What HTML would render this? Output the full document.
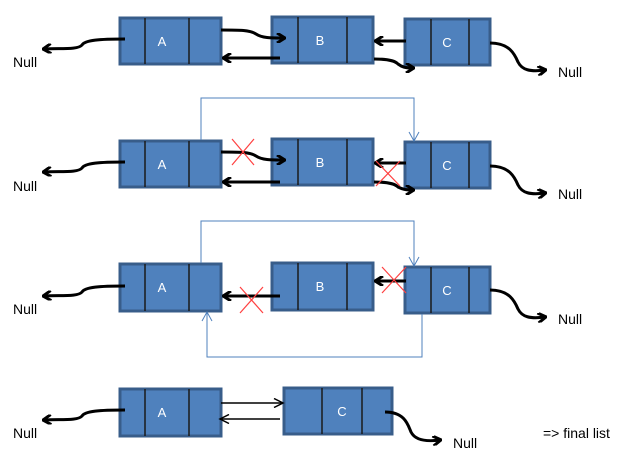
<!DOCTYPE html>
<html><head><meta charset="utf-8"><style>
html,body{margin:0;padding:0;background:#fff;width:626px;height:460px;overflow:hidden}
svg text{font-family:"Liberation Sans",sans-serif}
</style></head><body>
<svg width="626" height="460" viewBox="0 0 626 460" xmlns="http://www.w3.org/2000/svg">
<defs>
<marker id="ah" markerWidth="10" markerHeight="10" refX="8" refY="5" orient="auto" markerUnits="userSpaceOnUse"><path d="M1,0 L9,5 L1,10" fill="none" stroke="#000" stroke-width="3"/></marker>
<marker id="ahT" markerWidth="12" markerHeight="10" refX="10" refY="5" orient="auto" markerUnits="userSpaceOnUse"><path d="M1,0.5 L10,5 L1,9.5" fill="none" stroke="#000" stroke-width="1.5"/></marker>
</defs>
<g stroke="#385d8a" stroke-width="3" fill="#4f81bd">
<rect x="120" y="18" width="101" height="46"/><rect x="272" y="17" width="101" height="46"/><rect x="405" y="19" width="85" height="46"/>
<rect x="120" y="141" width="101" height="46"/><rect x="272" y="139" width="101" height="46"/><rect x="405" y="142" width="85" height="46"/>
<rect x="120" y="264" width="101" height="47"/><rect x="272" y="263" width="101" height="47"/><rect x="405" y="267" width="85" height="46"/>
<rect x="120" y="389" width="101" height="47"/><rect x="284" y="388" width="108" height="46"/>
</g>
<g stroke="#1a1a1a" stroke-width="1.5">
<line x1="145" y1="18" x2="145" y2="64"/><line x1="189" y1="18" x2="189" y2="64"/>
<line x1="298" y1="17" x2="298" y2="63"/><line x1="347" y1="17" x2="347" y2="63"/>
<line x1="431" y1="19" x2="431" y2="65"/><line x1="469" y1="19" x2="469" y2="65"/>
<line x1="145" y1="141" x2="145" y2="187"/><line x1="189" y1="141" x2="189" y2="187"/>
<line x1="298" y1="139" x2="298" y2="185"/><line x1="347" y1="139" x2="347" y2="185"/>
<line x1="431" y1="142" x2="431" y2="188"/><line x1="469" y1="142" x2="469" y2="188"/>
<line x1="145" y1="264" x2="145" y2="311"/><line x1="189" y1="264" x2="189" y2="311"/>
<line x1="298" y1="263" x2="298" y2="310"/><line x1="347" y1="263" x2="347" y2="310"/>
<line x1="431" y1="267" x2="431" y2="313"/><line x1="469" y1="267" x2="469" y2="313"/>
<line x1="145" y1="389" x2="145" y2="436"/><line x1="189" y1="389" x2="189" y2="436"/>
<line x1="322" y1="388" x2="322" y2="434"/><line x1="362" y1="388" x2="362" y2="434"/>
</g>
<g fill="#fff" font-size="13" text-anchor="middle">
<text x="162" y="46">A</text><text x="320" y="45">B</text><text x="447" y="47">C</text>
<text x="162" y="169">A</text><text x="320" y="167">B</text><text x="447" y="170">C</text>
<text x="162" y="292">A</text><text x="320" y="291">B</text><text x="447" y="295">C</text>
<text x="162" y="417">A</text><text x="342" y="416">C</text>
</g>
<g fill="none" stroke="#000" stroke-width="3" marker-end="url(#ah)">
<path d="M125,39 C100,39 85,40 82,45 C78,50 60,48 44,49"/>
<path d="M490,43 C510,43 515,55 518,62 C522,70 530,72 545,70"/>
<path d="M221,30 C240,30 250,30 256,34 C262,38 270,38 284,38"/>
<path d="M280,58 L224,58"/>
<path d="M406,41 L376,41"/>
<path d="M374,59 C392,59 396,62 398,64 C402,67 405,68 413,68"/>

<path d="M125,162 C100,162 85,163 82,168 C78,173 60,171 44,172"/>
<path d="M490,166 C510,166 515,178 518,185 C522,193 530,195 545,193"/>
<path d="M221,152 C240,152 250,152 256,156 C262,160 270,160 284,160"/>
<path d="M280,182 L224,182"/>
<path d="M406,163 L376,163"/>
<path d="M374,182 C392,182 396,185 398,187 C402,189 405,190 413,190"/>

<path d="M125,286 C100,286 85,287 82,292 C78,297 60,295 44,296"/>
<path d="M490,290 C510,290 515,302 518,309 C522,317 530,319 545,317"/>
<path d="M280,296 L224,296"/>
<path d="M406,281 L376,281"/>

<path d="M125,410 C100,410 85,411 82,416 C78,421 60,419 44,420"/>
<path d="M385,412 C405,412 408,425 411,432 C415,440 425,442 440,440"/>
</g>
<g fill="none" stroke="#000" stroke-width="1.5" marker-end="url(#ahT)">
<path d="M221,403 L283,403"/><path d="M280,419 L220,419"/>
</g>
<g fill="none" stroke="#4f81bd" stroke-width="1">
<path d="M201,140 L201,98 L414,98 L414,141"/>
<path d="M409,132 L414,141 L419,132"/>
<path d="M201,263 L201,221 L414,221 L414,266"/>
<path d="M409,257 L414,266 L419,257"/>
<path d="M422,314 L422,357 L207,357 L207,312"/>
<path d="M202,321 L207,312 L212,321"/>
</g>
<g stroke="#ff4040" stroke-width="1.2">
<line x1="232" y1="139" x2="254" y2="165"/><line x1="254" y1="139" x2="232" y2="165"/>
<line x1="376" y1="161" x2="400" y2="186"/><line x1="400" y1="161" x2="376" y2="186"/>
<line x1="240" y1="287" x2="263" y2="313"/><line x1="263" y1="287" x2="240" y2="313"/>
<line x1="382" y1="267" x2="406" y2="293"/><line x1="406" y1="267" x2="382" y2="293"/>
</g>
<g fill="#000" font-size="14">
<text x="13" y="67">Null</text><text x="558" y="77">Null</text>
<text x="13" y="191">Null</text><text x="558" y="199">Null</text>
<text x="13" y="314">Null</text><text x="558" y="324">Null</text>
<text x="13" y="438">Null</text><text x="453" y="448">Null</text>
<text x="543" y="438">=&gt; final list</text>
</g>
</svg>
</body></html>
